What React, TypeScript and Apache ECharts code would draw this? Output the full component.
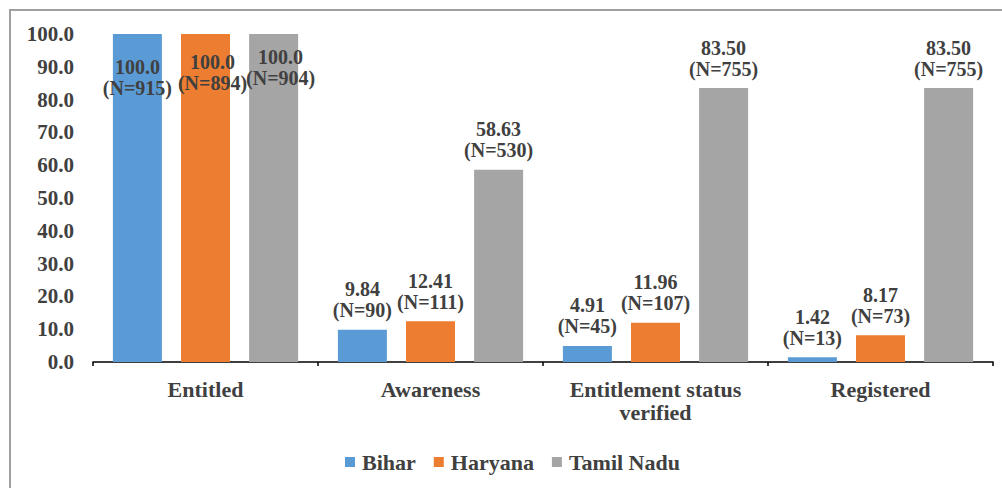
import React, { useEffect, useRef } from "react";
import * as echarts from "echarts";

const categories = ["Entitled", "Awareness", "Entitlement status\nverified", "Registered"];
const seriesNames = ["Bihar", "Haryana", "Tamil Nadu"];
const biharValues = [100.0, 9.84, 4.91, 1.42];
const haryanaValues = [100.0, 12.41, 11.96, 8.17];
const tamilNaduValues = [100.0, 58.63, 83.5, 83.5];
const biharN = [915, 90, 45, 13];
const haryanaN = [894, 111, 107, 73];
const tamilNaduN = [904, 530, 755, 755];
const yTicks = [0, 10, 20, 30, 40, 50, 60, 70, 80, 90, 100];

const colors = ["#5B9BD5", "#ED7D31", "#A5A5A5"];
const FONT = "Liberation Serif";
const TEXT = "#404040";

export default function App() {
  const ref = useRef<HTMLDivElement>(null);
  useEffect(() => {
    document.body.style.margin = "0";
    if (!ref.current) return;
    const chart = echarts.init(ref.current, undefined, { renderer: "svg" });
    const values = [biharValues, haryanaValues, tamilNaduValues];
    const ns = [biharN, haryanaN, tamilNaduN];
    const insideDist = [22, 17, 12];
    const insideOffsetX = [0, 7, 7];

    const series = seriesNames.map((name, si) => ({
      name,
      type: "bar",
      barWidth: 49,
      barGap: "39%",
      itemStyle: { color: colors[si] },
      data: values[si].map((v, ci) => {
        const item: any = { value: v };
        if (ci === 0) {
          item.label = {
            position: "insideTop",
            distance: insideDist[si],
            offset: [insideOffsetX[si], 0],
          };
        }
        return item;
      }),
      label: {
        show: true,
        position: "top",
        distance: 9,
        fontFamily: FONT,
        fontWeight: "bold",
        fontSize: 20,
        lineHeight: 21,
        color: TEXT,
        formatter: (p: any) => {
          const v = p.dataIndex === 0 ? Number(p.value).toFixed(1) : Number(p.value).toFixed(2);
          return `${v}\n(N=${ns[si][p.dataIndex]})`;
        },
      },
    }));

    chart.setOption({
      animation: false,
      backgroundColor: "#ffffff",
      textStyle: { fontFamily: FONT },
      grid: { left: 93, right: 9, top: 34, bottom: 126, containLabel: false },
      legend: {
        data: seriesNames,
        left: 340,
        top: 446,
        itemWidth: 10,
        itemHeight: 10,
        itemGap: 18,
        icon: "rect",
        textStyle: { fontFamily: FONT, fontWeight: "bold", fontSize: 22, color: TEXT, padding: [0, 0, 0, 2] },
      },
      xAxis: {
        type: "category",
        data: categories,
        axisLine: { show: true, lineStyle: { color: "#000000", width: 1.5 } },
        axisTick: { show: true, length: 4, lineStyle: { color: "#000000", width: 1.5 } },
        axisLabel: {
          interval: 0,
          margin: 16,
          fontFamily: FONT,
          fontWeight: "bold",
          fontSize: 22,
          lineHeight: 23,
          color: TEXT,
        },
      },
      yAxis: {
        type: "value",
        min: yTicks[0],
        max: yTicks[yTicks.length - 1],
        interval: 10,
        axisLine: { show: false },
        axisTick: { show: false },
        splitLine: { show: false },
        axisLabel: {
          margin: 19,
          fontFamily: FONT,
          fontWeight: "bold",
          fontSize: 21,
          color: TEXT,
          formatter: (v: number) => v.toFixed(1),
        },
      },
      graphic: [
        {
          type: "polyline",
          shape: { points: [[10, 488], [10, 10], [1002, 10]] },
          style: { stroke: "#a0a0a0", lineWidth: 2, fill: "none" },
          silent: true,
        },
      ],
      series,
    });
    return () => chart.dispose();
  }, []);
  return <div ref={ref} style={{ width: 1002, height: 488 }} />;
}
